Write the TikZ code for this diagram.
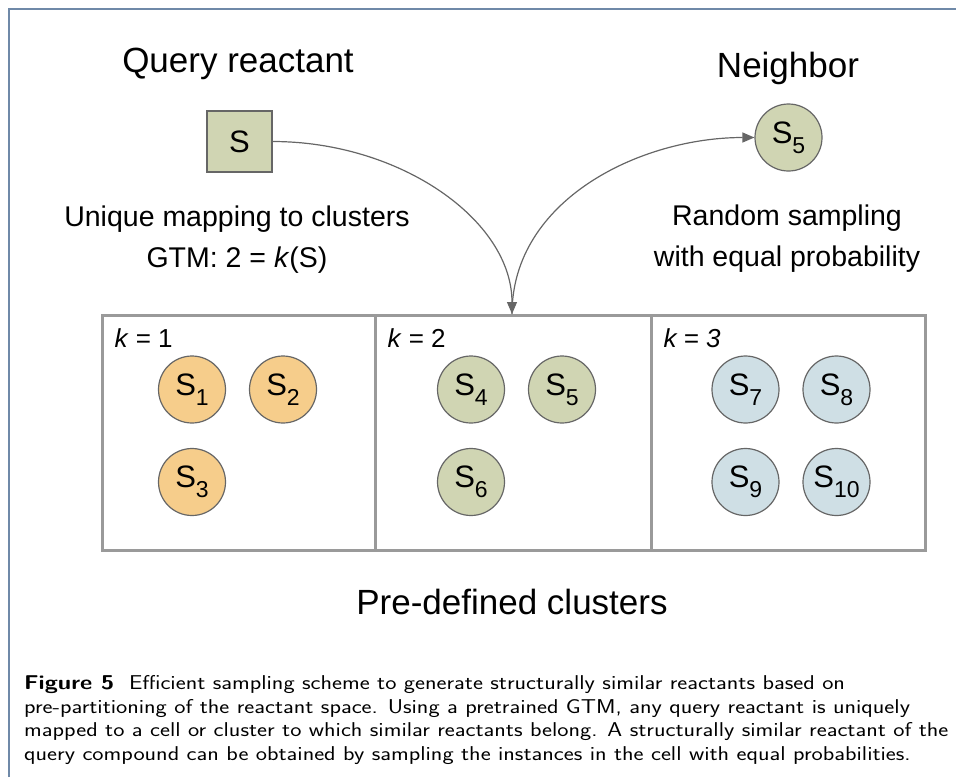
\documentclass[tikz,border=0pt]{standalone}
\usepackage{fontspec}
\usepackage{graphicx}
\setmainfont{Liberation Sans}
\setsansfont{Latin Modern Sans}
\usetikzlibrary{arrows.meta}
\definecolor{frameblue}{HTML}{6F89A8}
\definecolor{orangefill}{HTML}{F6CD8B}
\definecolor{greenfill}{HTML}{D0D5B3}
\definecolor{bluefill}{HTML}{CFDFE5}
\definecolor{boxgray}{HTML}{9A9A9A}
\definecolor{edgegray}{HTML}{666666}
\newcommand{\Sub}[1]{S\raisebox{-0.32em}{\fontsize{23}{23}\selectfont #1}}
\tikzset{
  mol/.style={circle, draw=edgegray, line width=1.2pt, minimum size=67pt, inner sep=0pt, font=\fontsize{31}{31}\selectfont},
  title/.style={font=\fontsize{35}{38}\selectfont},
  sub/.style={font=\fontsize{28.5}{31}\selectfont, align=center},
  klabel/.style={anchor=west, font=\fontsize{26}{29}\selectfont},
  conn/.style={draw=edgegray, line width=1.2pt, -{Triangle[length=12pt,width=10pt]}},
}
\begin{document}
\begin{tikzpicture}[x=1pt,y=-1pt]
\useasboundingbox (0,0) rectangle (956,777);
% frame
\draw[frameblue, line width=2pt] (9,777) -- (9,9) -- (956,9);
% titles
\node[title] (qt) at (238,64) {Query reactant};
\node[title] (nt) at (788,68) {Neighbor};
% query box
\node[draw=edgegray, fill=greenfill, line width=1.2pt, minimum width=65pt, minimum height=61pt, inner sep=0pt, font=\fontsize{31}{31}\selectfont] (q) at (239.5,141.5) {S};
% neighbor
\node[mol, fill=greenfill] (n) at (788.5,137.5) {\Sub{5}};
% descriptions
\node[sub] (d1) at (237,219) {Unique mapping to clusters};
\node[sub] (d2) at (237,260) {GTM: 2 = \textit{k}(S)};
\node[sub] (d3) at (787,218) {Random sampling};
\node[sub] (d4) at (787,259) {with equal probability};
% cluster boxes
\draw[boxgray, line width=3pt] (102,315) rectangle (925,550);
\draw[boxgray, line width=3pt] (375,315) -- (375,550);
\draw[boxgray, line width=3pt] (651,315) -- (651,550);
\coordinate (hit) at (512,314);
\node[klabel] (k1) at (111,338) {\textit{k} = 1};
\node[klabel] (k2) at (384,338) {\textit{k} = 2};
\node[klabel] (k3) at (660,338) {\textit{k = 3}};
% molecules
\node[mol, fill=orangefill] (s1) at (192,389.5) {\Sub{1}};
\node[mol, fill=orangefill] (s2) at (283,389.5) {\Sub{2}};
\node[mol, fill=orangefill] (s3) at (192,482) {\Sub{3}};
\node[mol, fill=greenfill] (s4) at (471,389.5) {\Sub{4}};
\node[mol, fill=greenfill] (s5) at (562,389.5) {\Sub{5}};
\node[mol, fill=greenfill] (s6) at (471,482) {\Sub{6}};
\node[mol, fill=bluefill] (s7) at (745.5,389.5) {\Sub{7}};
\node[mol, fill=bluefill] (s8) at (836.5,389.5) {\Sub{8}};
\node[mol, fill=bluefill] (s9) at (745.5,482) {\Sub{9}};
\node[mol, fill=bluefill] (s10) at (836.5,482) {\Sub{10}};
% arrows
\draw[conn] (q.east) .. controls (400,141.5) and (512,220) .. (hit);
\draw[conn] (hit) .. controls (512,200) and (640,137.5) .. (n.west);
% bottom title
\node[title] (pd) at (512,602) {Pre-defined clusters};
% caption
\node[anchor=north west, inner sep=0pt] (cap) at (24,673)
{\scalebox{1.19}[1]{\sffamily\fontsize{20}{23.5}\selectfont\begin{tabular}{@{}l@{}}
\textbf{Figure 5}\ \ Efficient sampling scheme to generate structurally similar reactants based on\\
pre-partitioning of the reactant space. Using a pretrained GTM, any query reactant is uniquely\\
mapped to a cell or cluster to which similar reactants belong. A structurally similar reactant of the\\
query compound can be obtained by sampling the instances in the cell with equal probabilities.
\end{tabular}}};
\end{tikzpicture}
\end{document}
